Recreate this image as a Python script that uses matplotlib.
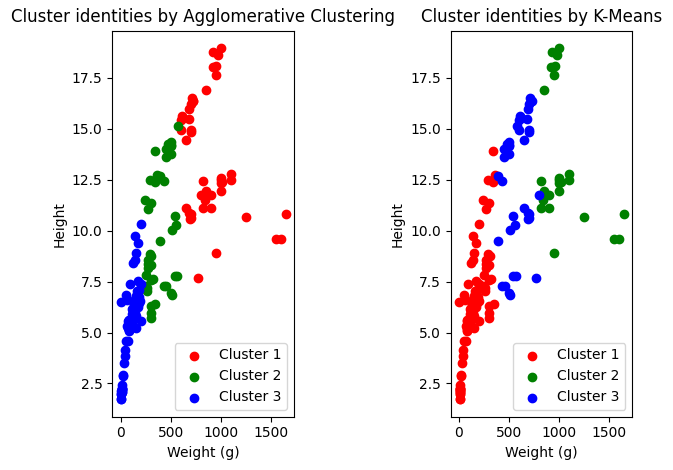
import matplotlib
matplotlib.use("Agg")
import matplotlib.pyplot as plt

weight = [242, 290, 340, 363, 430, 450, 500, 390, 450, 500, 475, 500, 500, 340, 600, 600, 700, 700, 610, 650,
          575, 685, 620, 680, 700, 725, 720, 714, 850, 1000, 920, 955, 925, 975, 950,
          40, 69, 78, 87, 120, 0, 110, 120, 150, 145, 160, 140, 160, 169, 161, 200, 180, 290, 272, 390,
          270, 270, 306, 540, 800, 1000,
          55, 60, 90, 120, 150, 140, 170, 145, 200, 273, 300,
          5.9, 32, 40, 51.5, 70, 100, 78, 80, 85, 85, 110, 115, 125, 130, 120, 120, 130, 135, 110, 130,
          150, 145, 150, 170, 225, 145, 188, 180, 197, 218, 300, 260, 265, 250, 250, 300, 320, 514, 556, 840,
          685, 700, 700, 690, 900, 650, 820, 850, 900, 1015, 820, 1100, 1000, 1100, 1000, 1000,
          200, 300, 300, 300, 430, 345, 456, 510, 540, 500, 567, 770, 950, 1250, 1600, 1550, 1650,
          6.7, 7.5, 7, 9.7, 9.8, 8.7, 10, 9.9, 9.8, 12.2, 13.4, 12.2, 19.7, 19.9]

height = [11.52, 12.48, 12.3778, 12.73, 12.444, 13.6024, 14.1795, 12.67, 14.0049, 14.2266, 14.2628, 14.3714,
          13.7592, 13.9129, 14.9544, 15.438, 14.8604, 14.938, 15.633, 14.4738, 15.1285, 15.9936, 15.5227,
          15.4686, 16.2405, 16.36, 16.3618, 16.517, 16.8896, 18.957, 18.0369, 18.084, 18.7542, 18.6354, 17.6235,
          4.1472, 5.2983, 5.5756, 5.6166, 6.216, 6.4752, 6.1677, 6.1146, 5.8045, 6.6339, 7.0334, 6.55, 6.4,
          7.5344, 6.9153, 7.3968, 7.0866, 8.8768, 8.568, 9.485,
          8.3804, 8.1454, 8.778, 10.744, 11.7612, 12.354,
          6.8475, 6.5772, 7.4052, 8.3922, 8.8928, 8.5376, 9.396, 9.7364, 10.3458, 11.088, 11.368,
          2.112, 3.528, 3.824, 4.5924, 4.588, 5.2224, 5.1992, 5.6358, 5.1376, 5.082, 5.6925, 5.9175, 5.6925,
          6.384, 6.11, 5.64, 6.11, 5.875, 5.5225, 5.856, 6.792, 5.9532, 5.2185, 6.275, 7.293, 6.375, 6.7334,
          6.4395, 6.561, 7.168, 8.323, 7.1672, 7.0516, 7.2828, 7.8204, 7.5852, 7.6156, 10.03, 10.2565, 11.4884,
          10.881, 10.6091, 10.835, 10.5717, 11.1366, 11.1366, 12.4313, 11.9286, 11.73, 12.3808, 11.135,
          12.8002, 11.9328, 12.5125, 12.604, 12.4888,
          5.568, 5.7078, 5.9364, 6.2884, 7.29, 6.396, 7.28, 6.825, 7.786, 6.96, 7.792, 7.68, 8.9262, 10.6863,
          9.6, 9.6, 10.812,
          1.7388, 1.972, 1.7284, 2.196, 2.0832, 1.9782, 2.2139, 2.2139, 2.2044, 2.0904, 2.43, 2.277, 2.8728, 2.9322]

agg_cluster = [2, 2, 2, 2, 2, 2, 2, 2, 2, 2, 2, 2, 2, 2, 1, 1, 1, 1, 1, 1, 2, 1, 1, 1, 1, 1, 1, 1, 1, 1, 1, 1, 1, 1, 1,
               3, 3, 3, 3, 3, 3, 3, 3, 3, 3, 3, 3, 3, 3, 3, 3, 3, 2, 2, 2,
               2, 2, 2, 2, 1, 1,
               3, 3, 3, 3, 3, 3, 3, 3, 3, 2, 2,
               3, 3, 3, 3, 3, 3, 3, 3, 3, 3, 3, 3, 3, 3, 3, 3, 3, 3, 3, 3, 3, 3, 3, 3, 2, 3, 3, 3, 3, 2,
               2, 2, 2, 2, 2, 2, 2, 2, 2, 1, 1, 1, 1, 1, 1, 1, 1, 1, 1, 1, 1, 1, 1, 1, 1, 1,
               3, 2, 2, 2, 2, 2, 2, 2, 2, 2, 2, 1, 1, 1, 1, 1, 1,
               3, 3, 3, 3, 3, 3, 3, 3, 3, 3, 3, 3, 3, 3]

kmeans_cluster = [1, 1, 1, 1, 3, 3, 3, 3, 3, 3, 3, 3, 3, 1, 3, 3, 3, 3, 3, 3, 3, 3, 3, 3, 3, 3, 3, 3, 2, 2, 2, 2, 2, 2, 2,
                  1, 1, 1, 1, 1, 1, 1, 1, 1, 1, 1, 1, 1, 1, 1, 1, 1, 1, 1, 3,
                  1, 1, 1, 3, 3, 2,
                  1, 1, 1, 1, 1, 1, 1, 1, 1, 1, 1,
                  1, 1, 1, 1, 1, 1, 1, 1, 1, 1, 1, 1, 1, 1, 1, 1, 1, 1, 1, 1, 1, 1, 1, 1, 1, 1, 1, 1, 1, 1,
                  1, 1, 1, 1, 1, 1, 1, 3, 3, 2, 3, 3, 3, 3, 2, 3, 2, 2, 2, 2, 2, 2, 2, 2, 2, 2,
                  1, 1, 1, 1, 3, 1, 3, 3, 3, 3, 3, 3, 2, 2, 2, 2, 2,
                  1, 1, 1, 1, 1, 1, 1, 1, 1, 1, 1, 1, 1, 1]

cluster_names = ["Cluster 1", "Cluster 2", "Cluster 3"]
cluster_colors = ["red", "green", "blue"]
titles = ["Cluster identities by Agglomerative Clustering", "Cluster identities by K-Means"]

fig = plt.figure(figsize=(6.73, 4.70), dpi=100)
ax1 = fig.add_axes([0.1669, 0.1134, 0.2700, 0.8213])
ax2 = fig.add_axes([0.6697, 0.1134, 0.2700, 0.8213])

for ax, labels, title in zip([ax1, ax2], [agg_cluster, kmeans_cluster], titles):
    for k, (name, col) in enumerate(zip(cluster_names, cluster_colors), start=1):
        xs = [w for w, l in zip(weight, labels) if l == k]
        ys = [h for h, l in zip(height, labels) if l == k]
        ax.scatter(xs, ys, c=col, label=name)
    ax.set_title(title)
    ax.set_xlabel("Weight (g)")
    ax.set_ylabel("Height")
    ax.legend(loc="lower right")

fig.savefig("out.png", dpi=100)
